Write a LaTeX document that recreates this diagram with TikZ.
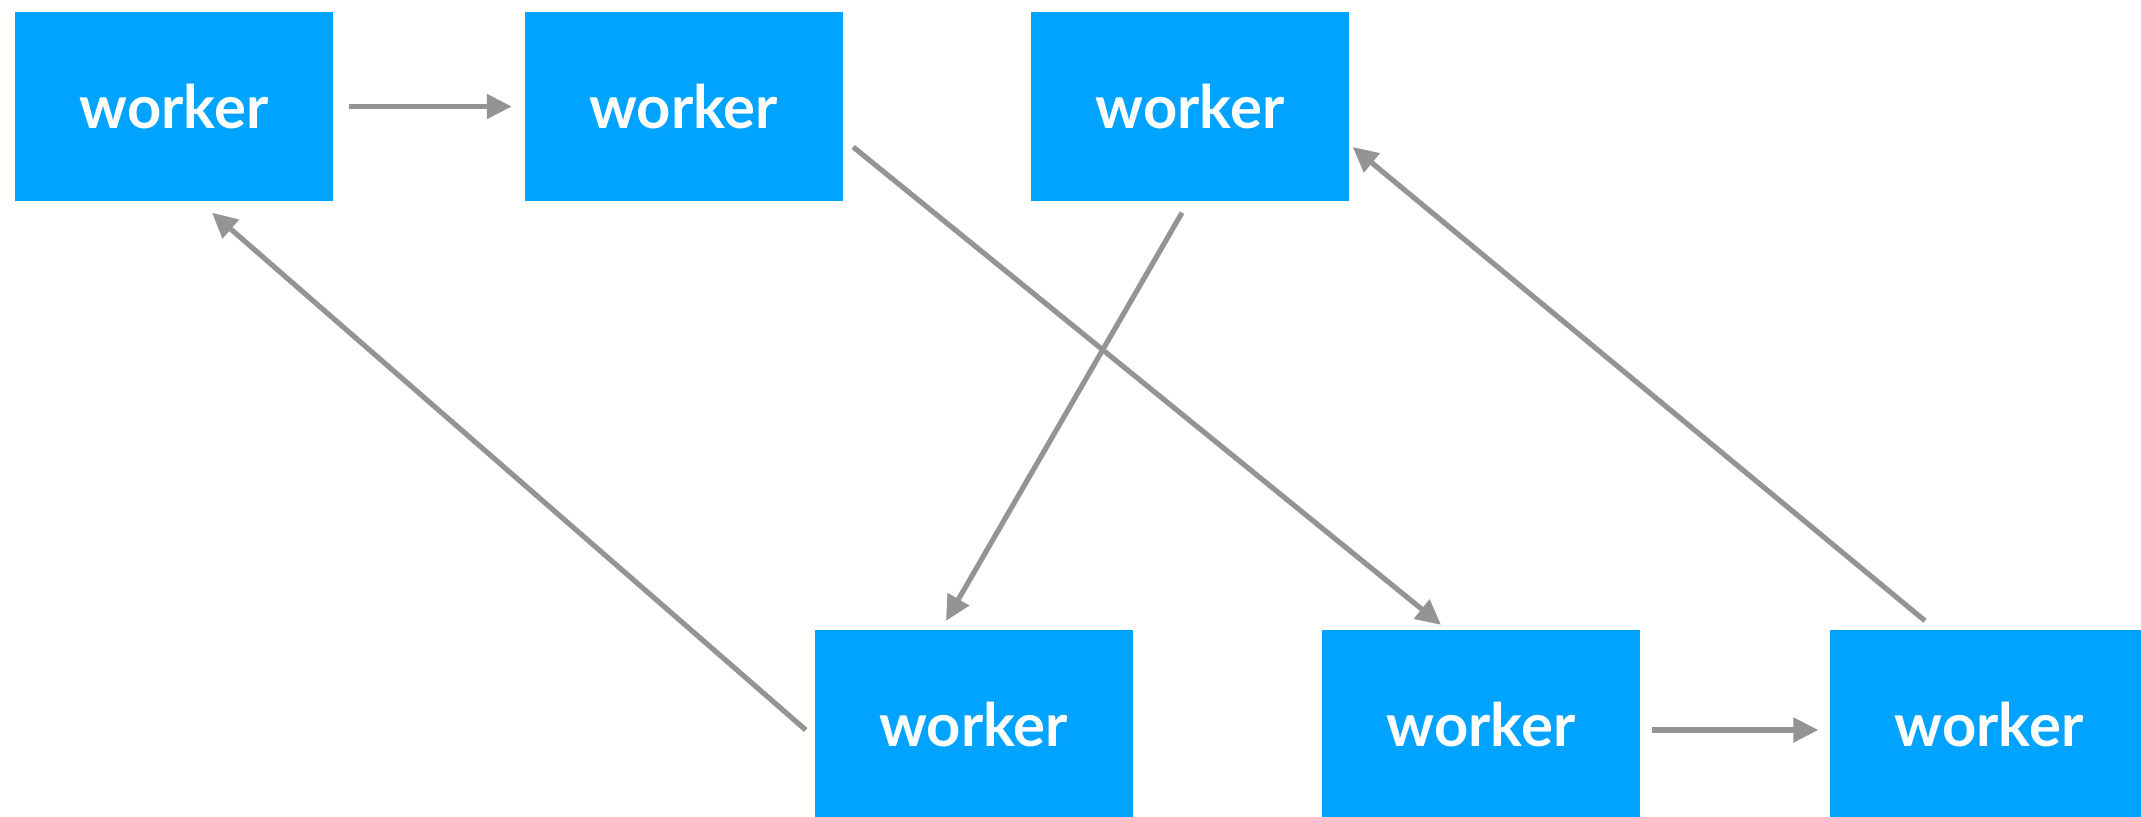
\documentclass[tikz,border=0pt]{standalone}
\usepackage{fontspec}
\setmainfont{Lato}
\usepackage{tikz}
\usetikzlibrary{positioning}
\usetikzlibrary{arrows.meta}
\definecolor{workerblue}{HTML}{00A3FF}
\definecolor{edgegray}{HTML}{949494}
\tikzset{
    mynode/.style = {rectangle, fill=workerblue, inner sep=0pt, minimum width=3.18cm, minimum height=1.89cm, text=white, font=\bfseries\fontsize{17}{20}\selectfont},
    edgen/.style = {-{Triangle[length=0.25cm,width=0.24cm]}, line width=0.052cm, edgegray},
}

\begin{document}
\begin{tikzpicture}
\useasboundingbox (0,0) rectangle (21.41,-8.16);
\node[mynode] at (1.74,-1.065) (w1) {worker};
\node[mynode] at (6.835,-1.065) (w2) {worker};
\node[mynode] at (11.90,-1.065) (w3) {worker};
\node[mynode] at (9.735,-7.245) (w4) {worker};
\node[mynode] at (14.81,-7.245) (w5) {worker};
\node[mynode] at (19.89,-7.245) (w6) {worker};
%
\draw[edgen] ([xshift=0.15cm]w1.east) -- ([xshift=-0.12cm]w2.west);
\draw[edgen] ([xshift=0.10cm,yshift=-0.405cm]w2.east) -- ([xshift=-0.40cm,yshift=0.045cm]w5.north);
\draw[edgen] ([xshift=-0.08cm,yshift=-0.11cm]w3.south) -- ([xshift=-0.275cm,yshift=0.085cm]w4.north);
\draw[edgen] ([xshift=-0.08cm,yshift=-0.055cm]w4.west) -- ([xshift=0.38cm,yshift=-0.11cm]w1.south);
\draw[edgen] ([xshift=-0.64cm,yshift=0.085cm]w6.north) -- ([xshift=0.03cm,yshift=-0.405cm]w3.east);
\draw[edgen] ([xshift=0.11cm,yshift=-0.055cm]w5.east) -- ([xshift=-0.11cm,yshift=-0.055cm]w6.west);

\end{tikzpicture}
\end{document}
